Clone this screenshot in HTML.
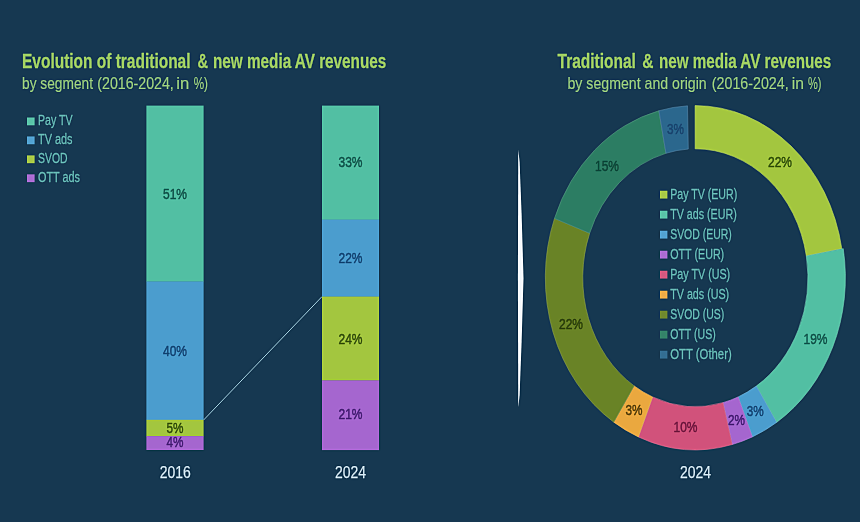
<!DOCTYPE html>
<html lang="en"><head><meta charset="utf-8"><title>Traditional &amp; new media AV revenues</title>
<style>
html,body{margin:0;padding:0;background:#163851;}
body{width:860px;height:522px;overflow:hidden;}
svg{display:block;font-family:"Liberation Sans",sans-serif;}
</style></head><body>
<svg width="860" height="522" viewBox="0 0 860 522">
<defs><filter id="b" x="-300%" y="-5%" width="700%" height="110%"><feGaussianBlur stdDeviation="0.7"/></filter>
<filter id="tb" x="-20%" y="-30%" width="140%" height="160%"><feGaussianBlur stdDeviation="0.55"/></filter>
<filter id="soft" filterUnits="userSpaceOnUse" x="-20" y="-20" width="900" height="562" color-interpolation-filters="sRGB">
<feGaussianBlur in="SourceGraphic" stdDeviation="0.6" result="b1"/>
<feGaussianBlur in="b1" stdDeviation="1.3" result="b2"/>
<feComposite in="b1" in2="b2" operator="arithmetic" k1="0" k2="1.4" k3="-0.4" k4="0"/>
</filter></defs>
<rect width="860" height="522" fill="#163851"/>
<g filter="url(#soft)">
<rect x="-20" y="-20" width="900" height="562" fill="#163851"/>
<text x="22.0" y="67.8" font-size="20.5" fill="#9bc962" text-anchor="start" font-weight="bold" textLength="168.5" lengthAdjust="spacingAndGlyphs" stroke="#9bc962" stroke-width="0.3" stroke-linejoin="round">Evolution of traditional</text>
<text x="197.5" y="67.8" font-size="20.5" fill="#9bc962" text-anchor="start" font-weight="bold" textLength="10.5" lengthAdjust="spacingAndGlyphs" stroke="#9bc962" stroke-width="0.3" stroke-linejoin="round">&amp;</text>
<text x="213.0" y="67.8" font-size="20.5" fill="#9bc962" text-anchor="start" font-weight="bold" textLength="173.3" lengthAdjust="spacingAndGlyphs" stroke="#9bc962" stroke-width="0.3" stroke-linejoin="round">new media AV revenues</text>
<text x="22.0" y="88.7" font-size="17" fill="#8fc079" text-anchor="start" font-weight="normal" textLength="71" lengthAdjust="spacingAndGlyphs" stroke="#8fc079" stroke-width="0.2" stroke-linejoin="round">by segment</text>
<text x="97.3" y="88.7" font-size="17" fill="#8fc079" text-anchor="start" font-weight="normal" textLength="76.5" lengthAdjust="spacingAndGlyphs" stroke="#8fc079" stroke-width="0.2" stroke-linejoin="round">(2016-2024,</text>
<text x="176.3" y="88.7" font-size="17" fill="#8fc079" text-anchor="start" font-weight="normal" textLength="13" lengthAdjust="spacingAndGlyphs" stroke="#8fc079" stroke-width="0.2" stroke-linejoin="round">in</text>
<text x="193.7" y="88.7" font-size="17" fill="#8fc079" text-anchor="start" font-weight="normal" textLength="14.3" lengthAdjust="spacingAndGlyphs" stroke="#8fc079" stroke-width="0.2" stroke-linejoin="round">%)</text>
<text x="557.6" y="67.8" font-size="20.5" fill="#9bc962" text-anchor="start" font-weight="bold" textLength="78.2" lengthAdjust="spacingAndGlyphs" stroke="#9bc962" stroke-width="0.3" stroke-linejoin="round">Traditional</text>
<text x="642.3" y="67.8" font-size="20.5" fill="#9bc962" text-anchor="start" font-weight="bold" textLength="11.2" lengthAdjust="spacingAndGlyphs" stroke="#9bc962" stroke-width="0.3" stroke-linejoin="round">&amp;</text>
<text x="659.0" y="67.8" font-size="20.5" fill="#9bc962" text-anchor="start" font-weight="bold" textLength="172.2" lengthAdjust="spacingAndGlyphs" stroke="#9bc962" stroke-width="0.3" stroke-linejoin="round">new media AV revenues</text>
<text x="567.5" y="88.7" font-size="17" fill="#8fc079" text-anchor="start" font-weight="normal" textLength="139.2" lengthAdjust="spacingAndGlyphs" stroke="#8fc079" stroke-width="0.2" stroke-linejoin="round">by segment and origin</text>
<text x="711.8" y="88.7" font-size="17" fill="#8fc079" text-anchor="start" font-weight="normal" textLength="76.8" lengthAdjust="spacingAndGlyphs" stroke="#8fc079" stroke-width="0.2" stroke-linejoin="round">(2016-2024,</text>
<text x="791.8" y="88.7" font-size="17" fill="#8fc079" text-anchor="start" font-weight="normal" textLength="12.2" lengthAdjust="spacingAndGlyphs" stroke="#8fc079" stroke-width="0.2" stroke-linejoin="round">in</text>
<text x="807.9" y="88.7" font-size="17" fill="#8fc079" text-anchor="start" font-weight="normal" textLength="13.5" lengthAdjust="spacingAndGlyphs" stroke="#8fc079" stroke-width="0.2" stroke-linejoin="round">%)</text>
<rect x="27" y="117.5" width="7.6" height="7.8" fill="#59c2a7"/>
<text x="38" y="125.2" font-size="14" fill="#60b0ad" text-anchor="start" font-weight="normal" textLength="34.5" lengthAdjust="spacingAndGlyphs" stroke="#60b0ad" stroke-width="0.3" stroke-linejoin="round">Pay TV</text>
<rect x="27" y="136.45" width="7.6" height="7.8" fill="#52a1d0"/>
<text x="38" y="144.14999999999998" font-size="14" fill="#60b0ad" text-anchor="start" font-weight="normal" textLength="34.5" lengthAdjust="spacingAndGlyphs" stroke="#60b0ad" stroke-width="0.3" stroke-linejoin="round">TV ads</text>
<rect x="27" y="155.4" width="7.6" height="7.8" fill="#a7c847"/>
<text x="38" y="163.1" font-size="14" fill="#60b0ad" text-anchor="start" font-weight="normal" textLength="29.5" lengthAdjust="spacingAndGlyphs" stroke="#60b0ad" stroke-width="0.3" stroke-linejoin="round">SVOD</text>
<rect x="27" y="174.35" width="7.6" height="7.8" fill="#a96cd1"/>
<text x="38" y="182.04999999999998" font-size="14" fill="#60b0ad" text-anchor="start" font-weight="normal" textLength="42" lengthAdjust="spacingAndGlyphs" stroke="#60b0ad" stroke-width="0.3" stroke-linejoin="round">OTT ads</text>
<line x1="203.6" y1="420" x2="322" y2="296.6" stroke="#8fb8c8" stroke-width="1"/>
<rect x="146.4" y="105.6" width="57.2" height="176.2" fill="#52bfa3"/>
<rect x="146.4" y="281.5" width="57.2" height="138.6" fill="#4b9dce"/>
<rect x="146.4" y="419.8" width="57.2" height="16.6" fill="#a3c63f"/>
<rect x="146.4" y="436.1" width="57.2" height="13.9" fill="#a566cf"/>
<text x="175.0" y="199.1" font-size="15.4" fill="#175c52" text-anchor="middle" font-weight="normal" textLength="24" lengthAdjust="spacingAndGlyphs" stroke="#175c52" stroke-width="0.5" stroke-linejoin="round" filter="url(#tb)">51%</text>
<text x="175.0" y="355.8" font-size="15.4" fill="#1a4b7a" text-anchor="middle" font-weight="normal" textLength="24" lengthAdjust="spacingAndGlyphs" stroke="#1a4b7a" stroke-width="0.5" stroke-linejoin="round" filter="url(#tb)">40%</text>
<text x="175.0" y="432.6" font-size="15.4" fill="#3b5712" text-anchor="middle" font-weight="normal" textLength="17" lengthAdjust="spacingAndGlyphs" stroke="#3b5712" stroke-width="0.5" stroke-linejoin="round" filter="url(#tb)">5%</text>
<text x="175.0" y="447.1" font-size="15.4" fill="#4b237a" text-anchor="middle" font-weight="normal" textLength="17" lengthAdjust="spacingAndGlyphs" stroke="#4b237a" stroke-width="0.5" stroke-linejoin="round" filter="url(#tb)">4%</text>
<rect x="322" y="105.6" width="57" height="114.3" fill="#52bfa3"/>
<rect x="322" y="219.6" width="57" height="77.3" fill="#4b9dce"/>
<rect x="322" y="296.6" width="57" height="84.1" fill="#a3c63f"/>
<rect x="322" y="380.4" width="57" height="69.7" fill="#a566cf"/>
<text x="350.5" y="167.2" font-size="15.4" fill="#175c52" text-anchor="middle" font-weight="normal" textLength="24" lengthAdjust="spacingAndGlyphs" stroke="#175c52" stroke-width="0.5" stroke-linejoin="round" filter="url(#tb)">33%</text>
<text x="350.5" y="263.2" font-size="15.4" fill="#1a4b7a" text-anchor="middle" font-weight="normal" textLength="24" lengthAdjust="spacingAndGlyphs" stroke="#1a4b7a" stroke-width="0.5" stroke-linejoin="round" filter="url(#tb)">22%</text>
<text x="350.5" y="343.7" font-size="15.4" fill="#3b5712" text-anchor="middle" font-weight="normal" textLength="24" lengthAdjust="spacingAndGlyphs" stroke="#3b5712" stroke-width="0.5" stroke-linejoin="round" filter="url(#tb)">24%</text>
<text x="350.5" y="419.0" font-size="15.4" fill="#4b237a" text-anchor="middle" font-weight="normal" textLength="24" lengthAdjust="spacingAndGlyphs" stroke="#4b237a" stroke-width="0.5" stroke-linejoin="round" filter="url(#tb)">21%</text>
<text x="175.3" y="478.3" font-size="16" fill="#c4d8e3" text-anchor="middle" font-weight="normal" textLength="31" lengthAdjust="spacingAndGlyphs" stroke="#c4d8e3" stroke-width="0.25" stroke-linejoin="round">2016</text>
<text x="350.5" y="478.3" font-size="16" fill="#c4d8e3" text-anchor="middle" font-weight="normal" textLength="31" lengthAdjust="spacingAndGlyphs" stroke="#c4d8e3" stroke-width="0.25" stroke-linejoin="round">2024</text>
<polygon points="518.3,149.5 519.6,162 521.6,214 523.5,278 521.6,342 519.6,395 518.3,407.5 517.9,278" fill="#f2f6fa" filter="url(#b)"/>
<path d="M695.07,105.60 A148.6,172.1 0 0 1 841.82,248.64 L806.33,255.94 A112.6,128.9 0 0 0 695.14,148.80 Z" fill="#a3c63f" stroke="#b4d062" stroke-width="0.6" stroke-linejoin="round"/>
<path d="M843.25,248.64 A150.05,172.1 0 0 1 776.55,422.43 L756.28,386.10 A112.6,128.9 0 0 0 806.33,255.94 Z" fill="#52bfa3" stroke="#71cbb4" stroke-width="0.6" stroke-linejoin="round"/>
<path d="M776.55,422.43 A150.05,172.1 0 0 1 752.34,436.91 L738.11,396.94 A112.6,128.9 0 0 0 756.28,386.10 Z" fill="#4b9dce" stroke="#6bafd7" stroke-width="0.6" stroke-linejoin="round"/>
<path d="M752.34,436.91 A150.05,172.1 0 0 1 732.21,444.53 L723.01,402.65 A112.6,128.9 0 0 0 738.11,396.94 Z" fill="#a566cf" stroke="#b582d8" stroke-width="0.6" stroke-linejoin="round"/>
<path d="M732.21,444.53 A150.05,172.1 0 0 1 638.36,436.91 L652.59,396.94 A112.6,128.9 0 0 0 723.01,402.65 Z" fill="#d1527b" stroke="#d97193" stroke-width="0.6" stroke-linejoin="round"/>
<path d="M638.36,436.91 A150.05,172.1 0 0 1 613.76,422.13 L634.12,385.88 A112.6,128.9 0 0 0 652.59,396.94 Z" fill="#eaa83f" stroke="#eeb862" stroke-width="0.6" stroke-linejoin="round"/>
<path d="M613.76,422.13 A150.05,172.1 0 0 1 554.49,218.39 L589.65,233.28 A112.6,128.9 0 0 0 634.12,385.88 Z" fill="#698326" stroke="#84994d" stroke-width="0.6" stroke-linejoin="round"/>
<path d="M554.49,218.39 A150.05,172.1 0 0 1 658.95,110.74 L665.98,153.26 A112.6,128.9 0 0 0 589.65,233.28 Z" fill="#2c7d63" stroke="#52947f" stroke-width="0.6" stroke-linejoin="round"/>
<path d="M658.95,110.74 A150.05,172.1 0 0 1 687.53,105.83 L688.28,149.05 A112.6,128.9 0 0 0 665.98,153.26 Z" fill="#2b678d" stroke="#5182a2" stroke-width="0.6" stroke-linejoin="round"/>
<text x="780" y="167.3" font-size="15.4" fill="#3b5a0e" text-anchor="middle" font-weight="normal" textLength="24" lengthAdjust="spacingAndGlyphs" stroke="#3b5a0e" stroke-width="0.5" stroke-linejoin="round" filter="url(#tb)">22%</text>
<text x="815.5" y="343.7" font-size="15.4" fill="#175c52" text-anchor="middle" font-weight="normal" textLength="24" lengthAdjust="spacingAndGlyphs" stroke="#175c52" stroke-width="0.5" stroke-linejoin="round" filter="url(#tb)">19%</text>
<text x="755.3" y="415.6" font-size="15.4" fill="#1a4b7a" text-anchor="middle" font-weight="normal" textLength="17" lengthAdjust="spacingAndGlyphs" stroke="#1a4b7a" stroke-width="0.5" stroke-linejoin="round" filter="url(#tb)">3%</text>
<text x="736.5" y="424.7" font-size="15.4" fill="#4b237a" text-anchor="middle" font-weight="normal" textLength="17" lengthAdjust="spacingAndGlyphs" stroke="#4b237a" stroke-width="0.5" stroke-linejoin="round" filter="url(#tb)">2%</text>
<text x="685.5" y="431.8" font-size="15.4" fill="#741c42" text-anchor="middle" font-weight="normal" textLength="24" lengthAdjust="spacingAndGlyphs" stroke="#741c42" stroke-width="0.5" stroke-linejoin="round" filter="url(#tb)">10%</text>
<text x="634" y="415.3" font-size="15.4" fill="#5e4510" text-anchor="middle" font-weight="normal" textLength="17" lengthAdjust="spacingAndGlyphs" stroke="#5e4510" stroke-width="0.5" stroke-linejoin="round" filter="url(#tb)">3%</text>
<text x="571" y="329.3" font-size="15.4" fill="#2f440b" text-anchor="middle" font-weight="normal" textLength="24" lengthAdjust="spacingAndGlyphs" stroke="#2f440b" stroke-width="0.5" stroke-linejoin="round" filter="url(#tb)">22%</text>
<text x="607" y="170.8" font-size="15.4" fill="#124a3b" text-anchor="middle" font-weight="normal" textLength="24" lengthAdjust="spacingAndGlyphs" stroke="#124a3b" stroke-width="0.5" stroke-linejoin="round" filter="url(#tb)">15%</text>
<text x="675.5" y="134.0" font-size="15.4" fill="#1b4670" text-anchor="middle" font-weight="normal" textLength="17" lengthAdjust="spacingAndGlyphs" stroke="#1b4670" stroke-width="0.5" stroke-linejoin="round" filter="url(#tb)">3%</text>
<text x="695.6" y="478.2" font-size="16" fill="#c4d8e3" text-anchor="middle" font-weight="normal" textLength="31" lengthAdjust="spacingAndGlyphs" stroke="#c4d8e3" stroke-width="0.25" stroke-linejoin="round">2024</text>
<rect x="660" y="190.75" width="7.4" height="7.8" fill="#a7c847"/>
<text x="670.2" y="198.75" font-size="14" fill="#60b0ad" text-anchor="start" font-weight="normal" textLength="67" lengthAdjust="spacingAndGlyphs" stroke="#60b0ad" stroke-width="0.3" stroke-linejoin="round">Pay TV (EUR)</text>
<rect x="660" y="210.75" width="7.4" height="7.8" fill="#59c2a7"/>
<text x="670.2" y="218.75" font-size="14" fill="#60b0ad" text-anchor="start" font-weight="normal" textLength="66.5" lengthAdjust="spacingAndGlyphs" stroke="#60b0ad" stroke-width="0.3" stroke-linejoin="round">TV ads (EUR)</text>
<rect x="660" y="230.75" width="7.4" height="7.8" fill="#52a1d0"/>
<text x="670.2" y="238.75" font-size="14" fill="#60b0ad" text-anchor="start" font-weight="normal" textLength="61.5" lengthAdjust="spacingAndGlyphs" stroke="#60b0ad" stroke-width="0.3" stroke-linejoin="round">SVOD (EUR)</text>
<rect x="660" y="250.75" width="7.4" height="7.8" fill="#a96cd1"/>
<text x="670.2" y="258.75" font-size="14" fill="#60b0ad" text-anchor="start" font-weight="normal" textLength="54" lengthAdjust="spacingAndGlyphs" stroke="#60b0ad" stroke-width="0.3" stroke-linejoin="round">OTT (EUR)</text>
<rect x="660" y="270.75" width="7.4" height="7.8" fill="#d35980"/>
<text x="670.2" y="278.75" font-size="14" fill="#60b0ad" text-anchor="start" font-weight="normal" textLength="60" lengthAdjust="spacingAndGlyphs" stroke="#60b0ad" stroke-width="0.3" stroke-linejoin="round">Pay TV (US)</text>
<rect x="660" y="290.75" width="7.4" height="7.8" fill="#ebab47"/>
<text x="670.2" y="298.75" font-size="14" fill="#60b0ad" text-anchor="start" font-weight="normal" textLength="59" lengthAdjust="spacingAndGlyphs" stroke="#60b0ad" stroke-width="0.3" stroke-linejoin="round">TV ads (US)</text>
<rect x="660" y="310.75" width="7.4" height="7.8" fill="#6f882f"/>
<text x="670.2" y="318.75" font-size="14" fill="#60b0ad" text-anchor="start" font-weight="normal" textLength="54" lengthAdjust="spacingAndGlyphs" stroke="#60b0ad" stroke-width="0.3" stroke-linejoin="round">SVOD (US)</text>
<rect x="660" y="330.75" width="7.4" height="7.8" fill="#348269"/>
<text x="670.2" y="338.75" font-size="14" fill="#60b0ad" text-anchor="start" font-weight="normal" textLength="45.5" lengthAdjust="spacingAndGlyphs" stroke="#60b0ad" stroke-width="0.3" stroke-linejoin="round">OTT (US)</text>
<rect x="660" y="350.75" width="7.4" height="7.8" fill="#336d92"/>
<text x="670.2" y="358.75" font-size="14" fill="#60b0ad" text-anchor="start" font-weight="normal" textLength="61.5" lengthAdjust="spacingAndGlyphs" stroke="#60b0ad" stroke-width="0.3" stroke-linejoin="round">OTT (Other)</text>
</g>
</svg>
</body></html>
